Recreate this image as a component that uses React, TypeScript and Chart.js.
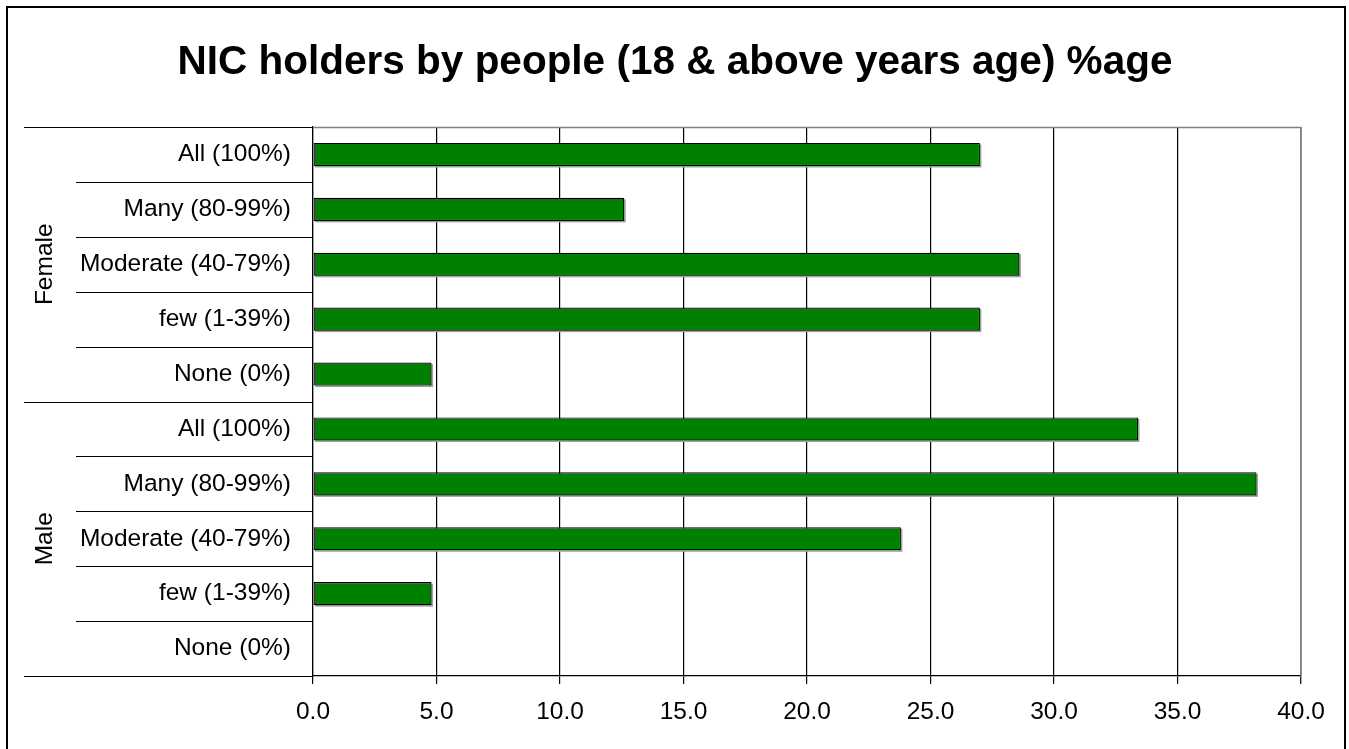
import React, { useEffect, useRef } from "react";
import { Chart, registerables } from "chart.js";

Chart.register(...registerables);

const TITLE = "NIC holders by people (18 & above years age) %age";
const CATEGORIES = [
  "All (100%)",
  "Many (80-99%)",
  "Moderate (40-79%)",
  "few (1-39%)",
  "None (0%)",
  "All (100%)",
  "Many (80-99%)",
  "Moderate (40-79%)",
  "few (1-39%)",
  "None (0%)",
];
const GROUPS = ["Female", "Male"];
const GROUP_SIZE = 5;
const VALUES = [27.0, 12.6, 28.6, 27.0, 4.8, 33.4, 38.2, 23.8, 4.8, 0];
const X_MIN = 0;
const X_MAX = 40;
const X_STEP = 5;

const FONT = "'Liberation Sans', Arial, sans-serif";

const decorPlugin = {
  id: "decor",
  beforeDatasetsDraw(chart: any) {
    const ctx = chart.ctx;
    const meta = chart.getDatasetMeta(0);
    ctx.save();
    ctx.fillStyle = "#a0a0a0";
    meta.data.forEach((el: any) => {
      const p = el.getProps(["x", "y", "base", "height"], true);
      const w = p.x - p.base;
      if (w <= 0) return;
      ctx.fillRect(p.base + 1.5, p.y - p.height / 2 + 1.5, w, p.height);
    });
    ctx.restore();
  },
  afterDraw(chart: any) {
    const ctx = chart.ctx;
    const area = chart.chartArea;
    const y = chart.scales.y;
    const n = CATEGORIES.length;
    const rowH = (area.bottom - area.top) / n;
    ctx.save();
    // title
    ctx.fillStyle = "#000";
    ctx.font = `bold 40.5px ${FONT}`;
    ctx.textAlign = "center";
    ctx.textBaseline = "alphabetic";
    ctx.fillText(TITLE, 675, 74);
    // plot top and right borders (grey)
    ctx.strokeStyle = "#808080";
    ctx.lineWidth = 1.5;
    ctx.beginPath();
    ctx.moveTo(area.left, area.top + 0.5);
    ctx.lineTo(area.right, area.top + 0.5);
    ctx.moveTo(area.right, area.top);
    ctx.lineTo(area.right, area.bottom);
    ctx.stroke();
    // separators on the category axis
    ctx.strokeStyle = "#000";
    ctx.lineWidth = 1.2;
    for (let i = 0; i <= n; i++) {
      const yy = Math.round(y.getPixelForTick(0) - rowH / 2 + i * rowH) + 0.5;
      const isGroup = i % GROUP_SIZE === 0;
      ctx.beginPath();
      ctx.moveTo(isGroup ? 24 : 76, yy);
      ctx.lineTo(area.left, yy);
      ctx.stroke();
    }
    // group labels
    ctx.fillStyle = "#000";
    ctx.font = `24.5px ${FONT}`;
    ctx.textAlign = "center";
    ctx.textBaseline = "middle";
    GROUPS.forEach((g, gi) => {
      const first = y.getPixelForTick(gi * GROUP_SIZE);
      const last = y.getPixelForTick(gi * GROUP_SIZE + GROUP_SIZE - 1);
      const cy = (first + last) / 2;
      ctx.save();
      ctx.translate(45, cy);
      ctx.rotate(-Math.PI / 2);
      ctx.fillText(g, 0, 0);
      ctx.restore();
    });
    // outer frame (bottom edge lies outside the picture)
    ctx.lineWidth = 2;
    ctx.strokeStyle = "#000";
    ctx.beginPath();
    ctx.moveTo(7, 760);
    ctx.lineTo(7, 7);
    ctx.lineTo(1345, 7);
    ctx.lineTo(1345, 760);
    ctx.stroke();
    ctx.restore();
  },
};

export default function App() {
  const ref = useRef<HTMLCanvasElement | null>(null);
  useEffect(() => {
    document.body.style.margin = "0";
    const canvas = ref.current;
    if (!canvas) return;
    const chart = new Chart(canvas, {
      type: "bar",
      data: {
        labels: CATEGORIES,
        datasets: [
          {
            data: VALUES,
            backgroundColor: "#008000",
            borderColor: "#000",
            borderWidth: 1.2,
            borderSkipped: false,
            barPercentage: 0.42,
            categoryPercentage: 1,
          },
        ],
      },
      options: {
        indexAxis: "y",
        animation: false,
        responsive: false,
        devicePixelRatio: 1,
        layout: { padding: { left: 0, right: 48, top: 127, bottom: 0 } },
        plugins: {
          legend: { display: false },
          tooltip: { enabled: false },
          title: { display: false },
        },
        scales: {
          x: {
            type: "linear",
            position: "bottom",
            min: X_MIN,
            max: X_MAX,
            ticks: {
              stepSize: X_STEP,
              color: "#000",
              font: { family: FONT, size: 24.5 },
              padding: 14,
              maxRotation: 0,
              callback: (v: any) => Number(v).toFixed(1),
            },
            grid: {
              display: true,
              color: (c: any) =>
                c.tick && c.tick.value === X_MAX ? "#808080" : "#000",
              lineWidth: (c: any) => (c.tick && c.tick.value === X_MAX ? 1.5 : 1.2),
              drawTicks: true,
              tickLength: 8,
              tickColor: "#000",
              tickWidth: 1.2,
            },
            border: { display: true, color: "#000", width: 1.2 },
            afterFit: (s: any) => {
              s.height = 73;
            },
          },
          y: {
            type: "category",
            position: "left",
            offset: true,
            ticks: {
              color: "#000",
              font: { family: FONT, size: 24.5 },
              padding: 22,
              autoSkip: false,
            },
            grid: { display: false, drawTicks: false },
            border: { display: true, color: "#000", width: 1.2 },
            afterFit: (s: any) => {
              s.width = 313;
            },
          },
        },
      },
      plugins: [decorPlugin],
    } as any);
    return () => chart.destroy();
  }, []);
  return (
    <div style={{ position: "absolute", left: 0, top: 0, width: 1349, height: 749, background: "#fff" }}>
      <canvas ref={ref} width={1349} height={749} />
    </div>
  );
}
